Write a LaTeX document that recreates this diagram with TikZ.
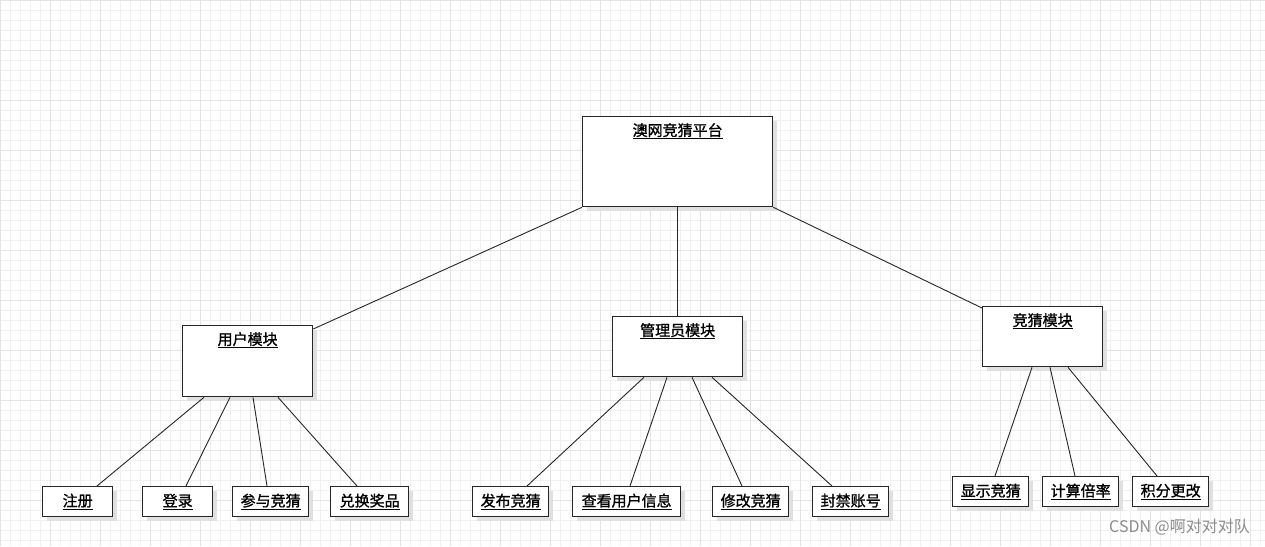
\documentclass[tikz,border=0pt]{standalone}
\usepackage{fontspec}
\setmainfont[AutoFakeBold=1.2]{Noto Sans CJK SC}
\begin{document}
\begin{tikzpicture}[x=1pt,y=-1pt,
  box/.style={draw=black!85,line width=1.3pt,fill=white,anchor=north west,inner sep=0pt},
  lbl/.style={font=\fontsize{15}{17}\selectfont\bfseries,anchor=north,inner sep=0pt},
  ln/.style={line width=0.9pt,black!85}]
\useasboundingbox (0,0) rectangle (1265,546);
\fill[white] (0,0) rectangle (1265,546);
\foreach \i in {0,10,...,1260} \draw[black!6,line width=0.5pt] (\i,0) -- (\i,546);
\foreach \i in {0,10,...,540} \draw[black!6,line width=0.5pt] (0,\i) -- (1265,\i);
\foreach \i in {0,50,...,1260} \draw[black!11,line width=0.6pt] (\i,0) -- (\i,546);
\foreach \i in {0,50,...,540} \draw[black!11,line width=0.6pt] (0,\i) -- (1265,\i);
\newcommand{\bx}[5]{%
  \fill[black!12] (#2+5,#3+5) rectangle (#4+5,#5+5);
  \node[box,minimum width=#4-#2,minimum height=#5-#3] (#1) at (#2,#3) {};}
\bx{top}{582}{116}{772}{206}
\bx{u}{182}{325}{312}{396}
\bx{m}{612}{316}{742}{376}
\bx{g}{982}{306}{1102}{366}
\bx{a1}{42}{486}{112}{516}
\bx{a2}{142}{486}{212}{516}
\bx{a3}{232}{486}{308}{516}
\bx{a4}{330}{486}{408}{516}
\bx{b1}{472}{486}{548}{516}
\bx{b2}{572}{486}{680}{516}
\bx{b3}{712}{486}{788}{516}
\bx{b4}{812}{486}{888}{516}
\bx{c1}{952}{476}{1028}{506}
\bx{c2}{1042}{476}{1118}{506}
\bx{c3}{1132}{476}{1208}{506}
\node[lbl] (ttop) at ([yshift=-7]top.north) {\underline{澳网竞猜平台}};
\node[lbl] (tu) at ([yshift=-7]u.north) {\underline{用户模块}};
\node[lbl] (tm) at ([yshift=-7]m.north) {\underline{管理员模块}};
\node[lbl] (tg) at ([yshift=-7]g.north) {\underline{竞猜模块}};
\foreach \n/\t in {a1/注册,a2/登录,a3/参与竞猜,a4/兑换奖品,b1/发布竞猜,b2/查看用户信息,b3/修改竞猜,b4/封禁账号,c1/显示竞猜,c2/计算倍率,c3/积分更改}
  \node[lbl,anchor=center] (t\n) at (\n.center) {\underline{\t}};
\draw[ln] (top.south west) -- ([yshift=-4]u.north east);
\draw[ln] (top.south) -- (m.north);
\draw[ln] (top.south east) -- ([yshift=-2]g.north west);
\draw[ln] ([xshift=22]u.south west) -- ([xshift=55]a1.north west);
\draw[ln] ([xshift=48]u.south west) -- ([xshift=44]a2.north west);
\draw[ln] ([xshift=71]u.south west) -- ([xshift=35]a3.north west);
\draw[ln] ([xshift=96]u.south west) -- ([xshift=27]a4.north west);
\draw[ln] ([xshift=32]m.south west) -- ([xshift=55]b1.north west);
\draw[ln] ([xshift=55]m.south west) -- ([xshift=58]b2.north west);
\draw[ln] ([xshift=80]m.south west) -- ([xshift=30]b3.north west);
\draw[ln] ([xshift=100]m.south west) -- ([xshift=20]b4.north west);
\draw[ln] ([xshift=50]g.south west) -- ([xshift=43]c1.north west);
\draw[ln] ([xshift=68]g.south west) -- ([xshift=33]c2.north west);
\draw[ln] ([xshift=86]g.south west) -- ([xshift=25]c3.north west);
\node[anchor=east,text=black!45,font=\fontsize{16}{18}\selectfont,inner sep=0pt] (wm) at (1250,527) {CSDN @啊对对对队};
\end{tikzpicture}
\end{document}
